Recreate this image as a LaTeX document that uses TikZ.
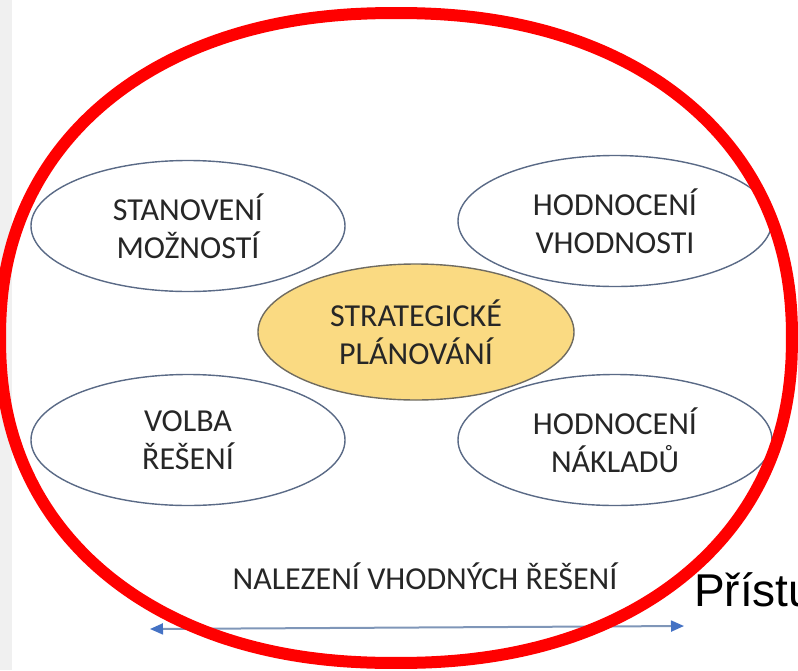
\documentclass[tikz,border=0pt]{standalone}
\usepackage{fontspec}
\setmainfont{Carlito}
\newfontfamily\arialfont{Liberation Sans}
\usetikzlibrary{shapes.geometric,arrows.meta}
\definecolor{rim}{HTML}{5A6A86}
\definecolor{yolk}{HTML}{FADA82}
\definecolor{yolkrim}{HTML}{6F6B60}
\definecolor{txt}{HTML}{262626}
\definecolor{shaft}{HTML}{7F96B8}
\definecolor{tipblue}{HTML}{4472C4}
\definecolor{strip}{HTML}{F0F0F0}
\tikzset{
  bubble/.style={ellipse,draw=rim,line width=1.4pt,fill=white,
    minimum width=314pt,minimum height=131pt,inner sep=0pt,
    align=center,text=txt,font=\fontsize{32}{38}\selectfont},
  core/.style={bubble,draw=yolkrim,fill=yolk,minimum width=316pt,minimum height=136pt},
}
\begin{document}
\begin{tikzpicture}[x=1pt,y=-1pt]
  \useasboundingbox (0,0) rectangle (798,670);
  \fill[strip] (0,0) rectangle (12,670);
  \draw
    (188,226) node[bubble] (stanoveni){STANOVENÍ\\MOŽNOSTÍ}
    (615,221) node[bubble] (vhodnost){HODNOCENÍ\\VHODNOSTI}
    (188,440) node[bubble] (volba){VOLBA\\ŘEŠENÍ}
    (615,440) node[bubble] (naklady){HODNOCENÍ\\NÁKLADŮ}
    (416,332) node[core] (planovani){STRATEGICKÉ\\PLÁNOVÁNÍ}
    (425,576) node[text=txt,font=\fontsize{32}{38}\selectfont] (nalezeni){NALEZENÍ VHODNÝCH ŘEŠENÍ};
  \coordinate (zleva) at (150,629);
  \coordinate (zprava) at (684,626);
  \begin{scope}[line width=2pt,draw=shaft]
    \draw[{Triangle[length=13pt,width=11pt,color=tipblue]}-{Triangle[length=13pt,width=11pt,color=tipblue]}]
      (zleva) -- (zprava);
  \end{scope}
  % red ring, a bit squarer than an ellipse
  \draw[red,line width=12pt,line join=round]
    plot[domain=0.5:360.5,samples=144,smooth]
      ({396+396*cos(\x)*pow(abs(cos(\x)),-0.09)},{338+325*sin(\x)*pow(abs(sin(\x)),-0.09)}) -- cycle;
  \node[anchor=base west,inner sep=0pt,font=\arialfont\fontsize{46}{50}\selectfont] (pristup) at (694,606) {Přístu};
\end{tikzpicture}
\end{document}
